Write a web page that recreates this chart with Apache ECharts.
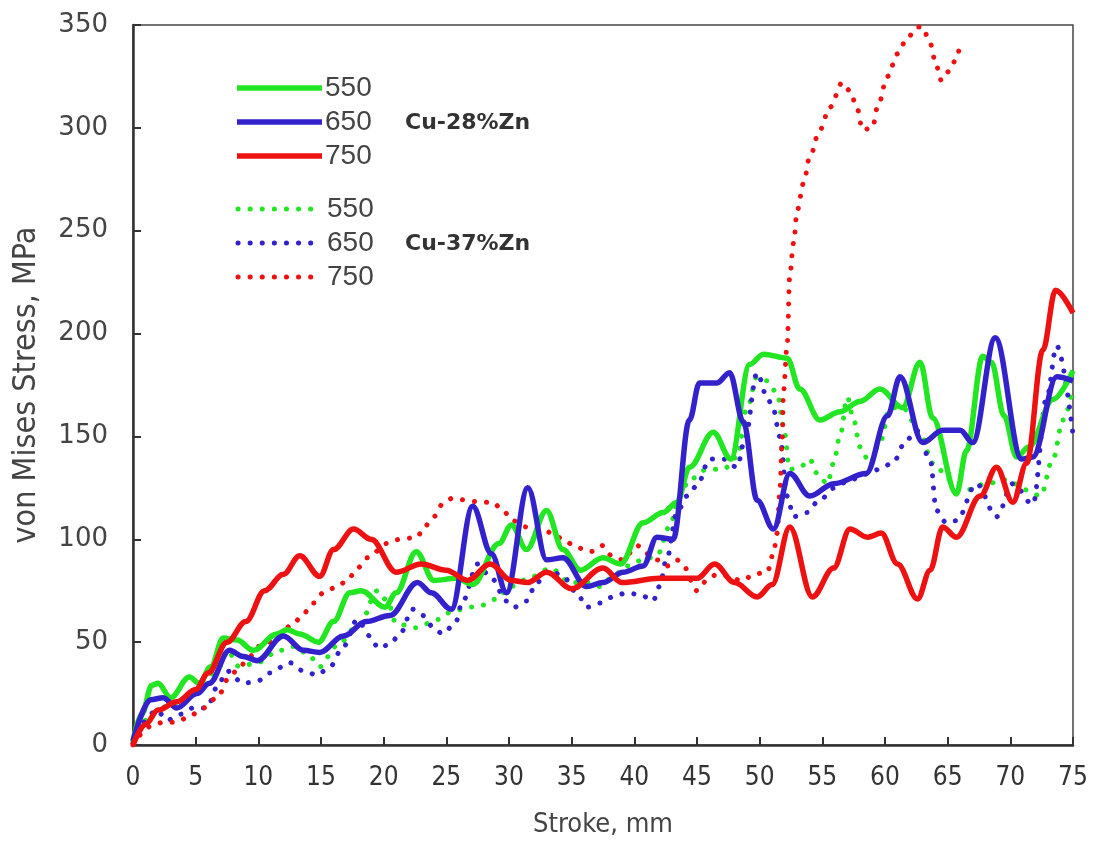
<!DOCTYPE html>
<html>
<head>
<meta charset="utf-8">
<script src="https://cdn.jsdelivr.net/npm/echarts@6/dist/echarts.min.js"></script>
<style>
  html, body { margin: 0; padding: 0; background: #fff; }
  #chart { width: 1094px; height: 845px; }
</style>
</head>
<body>
<div id="chart"></div>
<script>
// stroke (mm) / von Mises stress (MPa) pairs
const cu28_550 = [[0,2],[0.7,15],[1.5,29],[2,30],[3,23],[4.5,33],[5.3,30],[6.2,38],[7.2,52],[8.3,51],[9.6,46],[11.5,54],[12.3,56],[13.3,54],[14.8,50],[16,60],[17.3,74],[18.2,75],[20.1,67],[21,74],[22.6,94],[24,80],[25.8,81],[27.1,78],[29.2,98],[30.2,107],[31.4,95],[33,114],[34.3,95],[35.7,85],[37.5,91],[38.9,88],[40.7,108],[42.3,113],[43.4,118],[44.4,135],[46.3,152],[47.7,139],[49.2,185],[50.3,190],[52.2,188],[53.2,173],[54.8,158],[56.4,162],[58,167],[59.6,173],[61.4,164],[62.8,186],[63.8,159],[65.7,122],[66.5,143],[67.8,189],[68.5,186],[69.5,160],[70.5,140],[71.5,145],[73.4,168],[75,182]];
const cu28_650 = [[0,2],[1.4,22],[2.4,23],[3.5,18],[5.1,25],[6.1,30],[7.7,46],[8.8,43],[9.9,41],[12,53],[13.6,46],[14.9,45],[16.8,53],[18.6,60],[20.5,63],[22.7,79],[23.8,74],[25.4,66],[27.1,116],[28.6,93],[29.8,74],[31.5,125],[33,90],[34.3,91],[36.2,77],[37.5,79],[39.1,84],[40.7,87],[41.8,101],[43.1,100],[44.4,158],[45.2,176],[46.6,176],[47.6,181],[48.7,157],[49.8,119],[51.1,105],[52.4,132],[54,121],[55.9,127],[58.5,132],[60.2,160],[61.2,179],[63,147],[64.6,153],[66,153],[67,147],[68.8,198],[70.9,139],[71.8,140],[73.7,179],[75,177]];
const cu28_750 = [[0,0],[1,10],[2,17],[3.5,21],[5,27],[6,35],[7.5,50],[9,60],[10.5,75],[12,83],[13.3,92],[14.9,82],[16,95],[17.6,105],[19,100],[21,84],[23,88],[25,85],[26.7,80],[28.5,88],[30.2,80],[31.5,79],[33,84],[35,76],[37.5,86],[39,79],[42,81],[45,81],[46.4,88],[48,79],[49.8,72],[51,78],[52.4,106],[54.2,72],[55.9,86],[57.2,105],[58.6,101],[59.7,103],[61,88],[62.6,71],[63.6,85],[64.6,106],[65.7,101],[67.6,121],[68.9,135],[70.2,118],[71.3,137],[72.6,192],[73.6,221],[75,210]];
const cu37_550 = [[0,2],[1,12],[2,17],[3,20],[5,25],[6.7,36],[7.5,46],[8.5,38],[9.9,40],[11.7,46],[13,48],[14.1,43],[14.9,38],[16.2,48],[18.1,59],[19.5,75],[20.3,70],[21,59],[22.6,57],[24.3,61],[25.5,65],[26.9,67],[27.9,68],[29,71],[30.1,77],[31.9,82],[33.3,86],[34.9,79],[36.2,79],[37.3,77],[38.3,82],[39.4,87],[40.7,90],[41.8,92],[42.8,106],[43.6,121],[44.4,129],[45.8,134],[47.1,134],[48.2,140],[49,164],[49.8,179],[50.6,177],[51.4,171],[51.9,155],[52.4,134],[53.2,135],[54,139],[54.6,132],[55.4,127],[55.9,137],[56.4,150],[57,169],[57.5,158],[58,145],[58.8,137],[59.6,147],[60.4,164],[61.4,164],[62.8,152],[63.8,137],[65.2,129],[66.5,124],[68.1,127],[69.7,129],[71.3,124],[72.4,121],[73.4,139],[74.2,158],[75,174]];
const cu37_650 = [[0,1],[0.8,11],[1.9,17],[2.7,12],[3.8,15],[4.8,18],[5.9,18],[6.7,28],[7.5,36],[8.8,30],[9.9,31],[10.9,35],[12.5,40],[13.6,36],[14.7,34],[15.7,38],[16.8,48],[17.9,61],[18.9,53],[19.6,47],[20.5,49],[21.3,54],[22.3,66],[23.1,63],[24,57],[24.7,54],[25.7,59],[26.3,70],[27.5,88],[28.6,81],[29.8,70],[30.4,67],[31.4,70],[32.2,79],[33.3,85],[34.3,82],[35.4,74],[36.2,67],[37.3,69],[38.3,72],[39.4,74],[40.5,73],[41.5,70],[42,77],[42.6,91],[43.4,113],[44.2,121],[45,126],[46,139],[47.1,139],[48.2,135],[48.8,148],[49.8,181],[50.6,169],[51.1,163],[51.6,150],[52.2,121],[52.7,111],[53.8,113],[54.6,118],[56,125],[57.2,129],[58.8,132],[59.5,134],[60.6,137],[61.7,148],[62.5,153],[63.6,139],[64.1,114],[64.9,108],[65.7,109],[67.3,127],[68.9,111],[70.2,127],[71.8,117],[72.9,169],[73.7,194],[75,151]];
const cu37_750 = [[0,0],[1.4,9],[2.4,11],[3.5,11],[4.5,14],[5.6,18],[6.7,23],[7.7,33],[8.5,38],[9.3,43],[10.1,48],[10.9,50],[12,56],[12.8,59],[13.6,64],[14.4,69],[15.2,74],[16.3,77],[17.1,80],[17.9,86],[18.7,91],[20.3,98],[21.3,100],[22.7,101],[23.1,105],[24,111],[24.7,117],[25.5,120],[26.6,119],[27.7,118],[28.7,118],[29.5,114],[30.3,109],[31.4,106],[32.5,105],[33.5,103],[34.3,100],[35.4,96],[36.5,94],[37.4,97],[38.2,92],[39.1,90],[40.2,97],[41,93],[41.8,90],[42.6,87],[43.4,90],[43.9,87],[45,75],[45.8,80],[46.6,83],[48.7,80],[49.5,83],[50.6,84],[51.1,93],[51.4,103],[51.6,122],[51.8,148],[51.9,172],[52.2,195],[52.4,228],[52.7,244],[53,260],[53.5,273],[54,286],[54.8,299],[55.6,310],[56.6,322],[57.2,318],[57.8,309],[58.2,299],[59,300],[59.4,310],[60.2,325],[61,336],[61.8,344],[62.6,349],[63,349],[63.6,341],[64.1,330],[64.5,323],[65.2,328],[65.7,334],[66,341]];

const temps = ["550", "650", "750"];
const alloys = ["Cu-28%Zn", "Cu-37%Zn"];

const GREEN = "#22e622";
const BLUE = "#3322cc";
const RED = "#ee1111";
const colors = [GREEN, BLUE, RED];
const DOTS = [0.1, 12];

const chart = echarts.init(document.getElementById("chart"), null, { renderer: "canvas" });

const solid = (name, data, color) => ({
  name: name,
  type: "line",
  data: data,
  symbol: "none",
  smooth: 0.35,
  smoothMonotone: "x",
  lineStyle: { color: color, width: 5.5 },
});

const dotted = (name, data, color) => ({
  name: name,
  type: "line",
  data: data,
  symbol: "none",
  smooth: 0.35,
  smoothMonotone: "x",
  lineStyle: { color: color, width: 5, type: DOTS, cap: "round" },
});

// hand-drawn legend like the original figure
const legendItems = [];
temps.forEach((t, i) => {
  const y1 = 88 + i * 34;
  const y2 = 209 + i * 34;
  legendItems.push(
    { type: "line", shape: { x1: 237, y1: y1, x2: 322, y2: y1 }, style: { stroke: colors[i], lineWidth: 5.5 } },
    { type: "text", x: 325, y: y1, style: { text: t, font: "28px 'Liberation Sans'", fill: "#444", verticalAlign: "middle" } },
    { type: "line", shape: { x1: 238, y1: y2, x2: 314, y2: y2 }, style: { stroke: colors[i], lineWidth: 5, lineDash: DOTS, lineCap: "round" } },
    { type: "text", x: 327, y: y2, style: { text: t, font: "28px 'Liberation Sans'", fill: "#444", verticalAlign: "middle" } }
  );
});
legendItems.push(
  { type: "text", x: 405, y: 123, style: { text: alloys[0], font: "bold 22px 'DejaVu Sans'", fill: "#333", verticalAlign: "middle" } },
  { type: "text", x: 405, y: 244, style: { text: alloys[1], font: "bold 22px 'DejaVu Sans'", fill: "#333", verticalAlign: "middle" } }
);

const labelFont = "'DejaVu Sans Condensed', 'Liberation Sans', sans-serif";

const options = {
  animation: false,
  backgroundColor: "#fff",
  grid: { left: 133, right: 21, top: 25, bottom: 100, show: true, borderColor: "#444", borderWidth: 1.5, backgroundColor: "transparent" },
  graphic: legendItems,
  xAxis: {
    type: "value",
    min: 0, max: 75, interval: 5,
    name: "Stroke, mm",
    nameLocation: "middle",
    nameGap: 66,
    nameTextStyle: { fontFamily: labelFont, fontSize: 27, color: "#444" },
    axisLine: { lineStyle: { color: "#333", width: 2.5 } },
    axisTick: { inside: true, length: 8, lineStyle: { color: "#333", width: 2 } },
    axisLabel: { margin: 20, fontFamily: labelFont, fontSize: 26, color: "#333" },
    splitLine: { show: false },
  },
  yAxis: {
    type: "value",
    min: 0, max: 350, interval: 50,
    name: "von Mises Stress, MPa",
    nameLocation: "middle",
    nameGap: 90,
    nameTextStyle: { fontFamily: labelFont, fontSize: 32, color: "#444" },
    axisLine: { lineStyle: { color: "#333", width: 2.5 } },
    axisTick: { inside: true, length: 8, lineStyle: { color: "#333", width: 2 } },
    axisLabel: { margin: 25, fontFamily: "DejaVu Sans", fontSize: 26, color: "#444" },
    splitLine: { show: false },
  },
  series: [
    dotted("550 Cu-37%Zn", cu37_550, GREEN),
    dotted("650 Cu-37%Zn", cu37_650, BLUE),
    dotted("750 Cu-37%Zn", cu37_750, RED),
    solid("550 Cu-28%Zn", cu28_550, GREEN),
    solid("650 Cu-28%Zn", cu28_650, BLUE),
    solid("750 Cu-28%Zn", cu28_750, RED),
  ],
};

chart.setOption(options);
</script>
</body>
</html>
